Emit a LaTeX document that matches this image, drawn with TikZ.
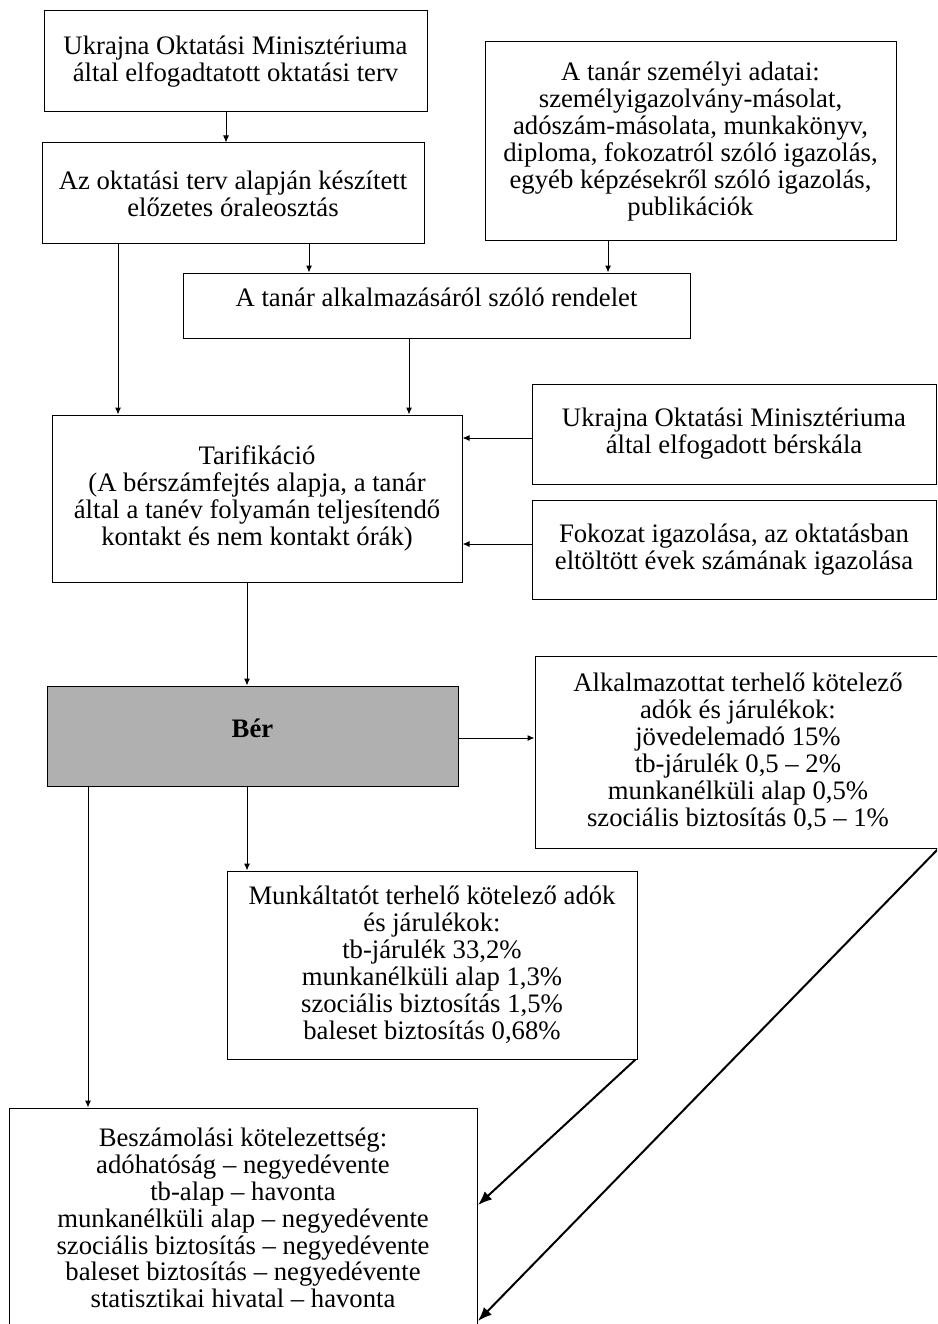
\documentclass[tikz,border=0pt]{standalone}
\usepackage{fontspec}
\setmainfont{Liberation Serif}
\usetikzlibrary{arrows.meta}
\begin{document}
\begin{tikzpicture}[x=1pt,y=-1pt,
  box/.style={draw=black,line width=1pt,inner sep=0pt,align=center,
    font=\fontsize{26.7}{26.9}\selectfont},
  arr/.style={line width=1pt,-{Latex[length=7pt,width=6pt]}},
  bigarr/.style={line width=2pt,-{Latex[length=14pt,width=11pt]}}]
\useasboundingbox (0,0) rectangle (937,1324);
\clip (0,0) rectangle (937,1324);

\node[box,minimum width=383pt,minimum height=101pt] (B1) at (235.5,61.5)
  {Ukrajna Oktatási Minisztériuma\\által elfogadtatott oktatási terv};
\node[box,minimum width=382pt,minimum height=101pt] (B2) at (233,193.5)
  {Az oktatási terv alapján készített\\előzetes óraleosztás};
\node[box,minimum width=411pt,minimum height=199pt] (B3) at (690.5,141.5)
  {A tanár személyi adatai:\\személyigazolvány-másolat,\\adószám-másolata, munkakönyv,\\diploma, fokozatról szóló igazolás,\\egyéb képzésekről szóló igazolás,\\publikációk};
\node[box,minimum width=507pt,minimum height=65pt] (B4) at (436.5,305.5)
  {\raisebox{16pt}{A tanár alkalmazásáról szóló rendelet}};
\node[box,minimum width=410pt,minimum height=167pt] (B5) at (257,498.5)
  {Tarifikáció\\(A bérszámfejtés alapja, a tanár\\által a tanév folyamán teljesítendő\\kontakt és nem kontakt órák)};
\node[box,minimum width=404pt,minimum height=100pt] (B6) at (734,434)
  {Ukrajna Oktatási Minisztériuma\\által elfogadott bérskála};
\node[box,minimum width=404pt,minimum height=99pt] (B7) at (734,549.5)
  {Fokozat igazolása, az oktatásban\\eltöltött évek számának igazolása};
\node[box,fill=black!31,minimum width=411pt,minimum height=100pt] (B8) at (252.5,736)
  {\raisebox{15pt}{\bfseries Bér}};
\node[box,minimum width=406pt,minimum height=192pt] (B9) at (738,752)
  {Alkalmazottat terhelő kötelező\\adók és járulékok:\\jövedelemadó 15\%\\tb-járulék 0,5 – 2\%\\munkanélküli alap 0,5\%\\szociális biztosítás 0,5 – 1\%};
\node[box,minimum width=410pt,minimum height=188pt] (B10) at (432,965)
  {Munkáltatót terhelő kötelező adók\\és járulékok:\\tb-járulék 33,2\%\\munkanélküli alap 1,3\%\\szociális biztosítás 1,5\%\\baleset biztosítás 0,68\%};
\node[box,minimum width=468pt,minimum height=220pt] (B11) at (243,1218)
  {Beszámolási kötelezettség:\\adóhatóság – negyedévente\\tb-alap – havonta\\munkanélküli alap – negyedévente\\szociális biztosítás – negyedévente\\baleset biztosítás – negyedévente\\statisztikai hivatal – havonta};

\coordinate (x226) at (226,0);
\coordinate (x309) at (309,0);
\coordinate (x608) at (608,0);
\coordinate (x118) at (118,0);
\coordinate (x409) at (409,0);
\coordinate (x247) at (247,0);
\coordinate (x88) at (88,0);
\coordinate (y438) at (0,438);
\coordinate (y544) at (0,544);
\coordinate (y738) at (0,738);
\coordinate (t1) at (478,1205);
\coordinate (t2) at (478,1321);

\draw[arr] (B1.south -| x226) -- (B2.north -| x226);
\draw[arr] (B2.south -| x309) -- (B4.north -| x309);
\draw[arr] (B3.south -| x608) -- (B4.north -| x608);
\draw[arr] (B2.south -| x118) -- (B5.north -| x118);
\draw[arr] (B4.south -| x409) -- (B5.north -| x409);
\draw[arr] (B6.west |- y438) -- (B5.east |- y438);
\draw[arr] (B7.west |- y544) -- (B5.east |- y544);
\draw[arr] (B5.south -| x247) -- (B8.north -| x247);
\draw[arr] (B8.east |- y738) -- (B9.west |- y738);
\draw[arr] (B8.south -| x88) -- (B11.north -| x88);
\draw[arr] (B8.south -| x247) -- (B10.north -| x247);
\draw[bigarr] ([xshift=-2pt]B10.south east) -- (t1);
\draw[bigarr] ([xshift=-3pt]B9.south east) -- (t2);
\end{tikzpicture}
\end{document}
